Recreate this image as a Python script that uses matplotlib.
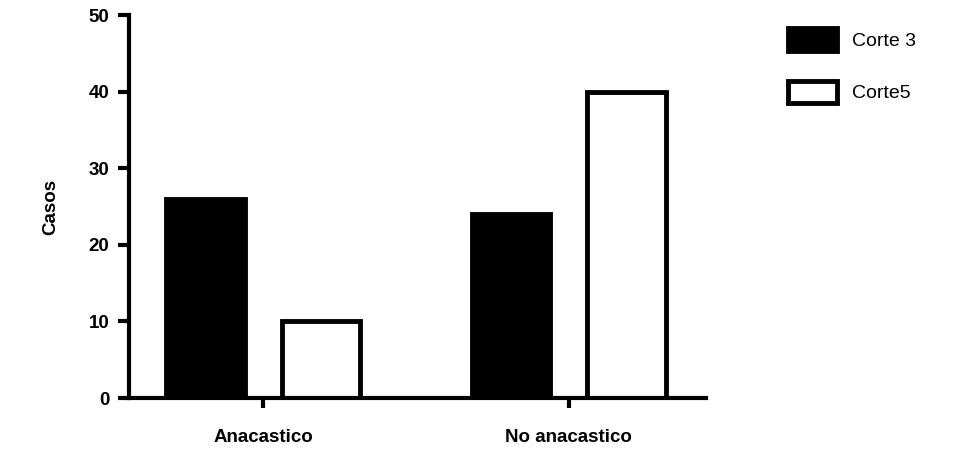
import matplotlib
matplotlib.use("Agg")
import matplotlib.pyplot as plt
import numpy as np

# Data
categories = ["Anacastico", "No anacastico"]
corte3 = [26, 24]
corte5 = [10, 40]
series_names = ["Corte 3", "Corte5"]

plt.rcParams['font.family'] = ['Liberation Sans', 'DejaVu Sans']

fig = plt.figure(figsize=(9.61, 4.51), dpi=100)
ax = fig.add_axes([0.134, 0.1175, 0.601, 0.849])

x = np.arange(len(categories))
off = 0.189
w = 0.256
ax.bar(x - off, corte3, width=w, color='black', edgecolor='black', linewidth=3.5,
       label=series_names[0])
ax.bar(x + off, corte5, width=w, color='white', edgecolor='black', linewidth=3.5,
       label=series_names[1])

ax.set_xlim(-0.44, 1.45)
ax.set_ylim(0, 50)
ax.set_yticks([0, 10, 20, 30, 40, 50])
ax.set_xticks(x)
ax.set_xticklabels(categories, fontsize=13.5, fontweight='bold')
for lab in ax.get_yticklabels():
    lab.set_fontsize(13.5)
    lab.set_fontweight('bold')

for s in ['top', 'right']:
    ax.spines[s].set_visible(False)
for s in ['left', 'bottom']:
    ax.spines[s].set_linewidth(3)
ax.tick_params(axis='y', length=8, width=3, pad=6)
ax.tick_params(axis='x', length=7, width=3, pad=15)

ax.set_ylabel("Casos", fontsize=13.5, fontweight='bold', labelpad=21)

leg = ax.legend(loc='upper left', bbox_to_anchor=(0.812, 0.955),
                bbox_transform=fig.transFigure, frameon=False, fontsize=14,
                handlelength=2.5, handleheight=1.4, labelspacing=1.55,
                handletextpad=0.8, borderaxespad=0)

fig.savefig("out.png", dpi=100)
